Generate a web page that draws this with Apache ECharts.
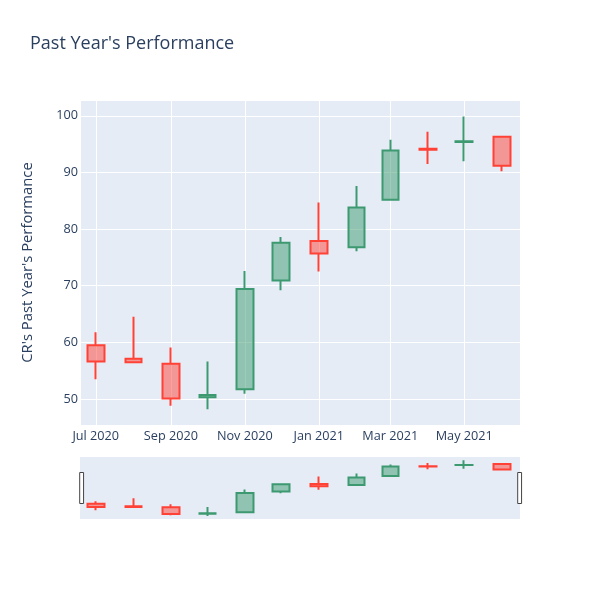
<!DOCTYPE html>
<html>
<head>
<meta charset="utf-8">
<script src="https://cdn.jsdelivr.net/npm/echarts@6/dist/echarts.min.js"></script>
<style>
  html, body { margin: 0; padding: 0; background: #fff; }
  #chart { width: 600px; height: 600px; }
</style>
</head>
<body>
<div id="chart"></div>
<script>
// monthly candles
var dates = ['2020-07-01', '2020-08-01', '2020-09-01', '2020-10-01', '2020-11-01', '2020-12-01',
  '2021-01-01', '2021-02-01', '2021-03-01', '2021-04-01', '2021-05-01', '2021-06-01']
var opens = [59.5, 57.1, 56.2, 50.3, 51.7, 70.9, 77.9, 76.8, 85.2, 94.2, 95.4, 96.3]
var closes = [56.6, 56.5, 50.1, 50.7, 69.4, 77.6, 75.7, 83.8, 93.9, 94.0, 95.5, 91.2]
var lows = [53.5, 56.4, 48.8, 48.2, 50.9, 69.2, 72.5, 76.1, 85.1, 91.5, 92.0, 90.2]
var highs = [61.8, 64.5, 59.1, 56.6, 72.6, 78.6, 84.7, 87.6, 95.8, 97.2, 99.9, 96.3]
var monthNames = ['Jan', 'Feb', 'Mar', 'Apr', 'May', 'Jun', 'Jul', 'Aug', 'Sep', 'Oct', 'Nov', 'Dec']

var xMin = '2020-06-18'
var xMax = '2021-06-16'
var yMin = 45.4
var yMax = 102.8

var candles = dates.map(function (d, i) {
  return [d, opens[i], closes[i], lows[i], highs[i]]
})

var textColor = '#2a3f5f'
var font = '"Open Sans", verdana, arial, sans-serif'

var candleStyle = {
  color: 'rgba(61, 153, 112, 0.5)',
  color0: 'rgba(255, 65, 54, 0.5)',
  borderColor: '#3D9970',
  borderColor0: '#FF4136',
  borderWidth: 2
}

var myChart = echarts.init(document.getElementById('chart'))
myChart.setOption({
  animation: false,
  textStyle: { fontFamily: font },
  title: {
    text: "Past Year's Performance",
    left: 30,
    top: 35,
    padding: 0,
    textStyle: { color: textColor, fontSize: 18, fontWeight: 'normal', fontFamily: font }
  },
  grid: [
    { left: 80, top: 100, width: 440, height: 325, show: true, backgroundColor: '#e5ecf6', borderWidth: 0 },
    { left: 80, top: 457, width: 440, height: 62, show: true, backgroundColor: '#e5ecf6', borderWidth: 0 }
  ],
  xAxis: [
    {
      type: 'time',
      gridIndex: 0,
      min: xMin,
      max: xMax,
      splitNumber: 5,
      axisLine: { show: false },
      axisTick: { show: false },
      splitLine: { show: true, lineStyle: { color: '#fff', width: 1 } },
      minorTick: { show: false },
      axisLabel: {
        color: textColor,
        fontSize: 12.7,
        margin: 5,
        fontFamily: font,
        formatter: function (value) {
          var d = new Date(value)
          return monthNames[d.getMonth()] + ' ' + d.getFullYear()
        }
      }
    },
    {
      type: 'time',
      gridIndex: 1,
      min: xMin,
      max: xMax,
      show: false
    }
  ],
  yAxis: [
    {
      type: 'value',
      gridIndex: 0,
      min: yMin,
      max: yMax,
      name: "CR's Past Year's Performance",
      nameLocation: 'middle',
      nameGap: 45,
      nameTextStyle: { color: textColor, fontSize: 14.8, fontFamily: font },
      axisLine: { show: false },
      axisTick: { show: false },
      splitLine: { lineStyle: { color: '#fff', width: 1 } },
      axisLabel: {
        color: textColor,
        fontSize: 12.7,
        margin: 2,
        fontFamily: font,
        showMinLabel: false,
        showMaxLabel: false
      }
    },
    {
      type: 'value',
      gridIndex: 1,
      min: yMin,
      max: yMax,
      show: false,
      splitLine: { show: false }
    }
  ],
  dataZoom: [
    {
      type: 'slider',
      xAxisIndex: [0, 1],
      filterMode: 'none',
      start: 0,
      end: 100,
      left: 80,
      top: 457,
      width: 440,
      height: 62,
      showDataShadow: false,
      showDetail: false,
      brushSelect: false,
      moveHandleSize: 0,
      backgroundColor: 'transparent',
      borderColor: 'transparent',
      fillerColor: 'transparent',
      dataBackground: {
        lineStyle: { opacity: 0 },
        areaStyle: { opacity: 0 }
      },
      handleIcon: 'path://M0,0h1v8h-1z',
      handleSize: '50%',
      handleStyle: { color: '#fff', borderColor: '#444', borderWidth: 1 }
    }
  ],
  series: [
    {
      name: 'CR',
      type: 'candlestick',
      xAxisIndex: 0,
      yAxisIndex: 0,
      barWidth: 17,
      encode: { x: 0, y: [1, 2, 3, 4] },
      data: candles,
      itemStyle: candleStyle
    },
    {
      name: 'CR range',
      type: 'candlestick',
      xAxisIndex: 1,
      yAxisIndex: 1,
      barWidth: 17,
      silent: true,
      encode: { x: 0, y: [1, 2, 3, 4] },
      data: candles,
      itemStyle: candleStyle
    }
  ]
})
</script>
</body>
</html>
